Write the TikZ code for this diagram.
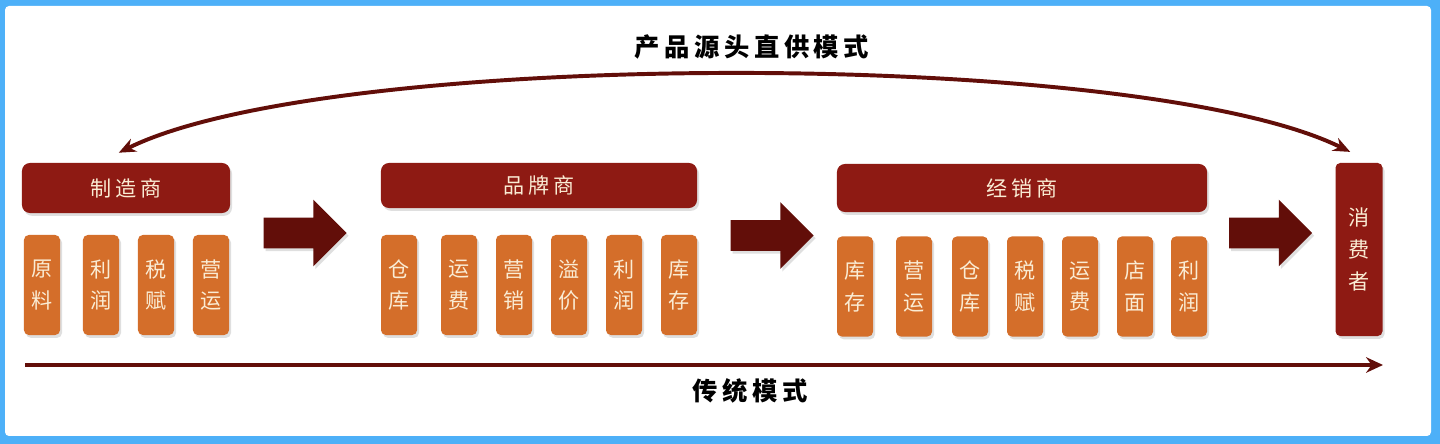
\documentclass[tikz,border=0pt]{standalone}
\usepackage{fontspec}
\newfontfamily\cjk{Noto Sans CJK SC}
\newfontfamily\cjkwide{Noto Sans CJK SC}[LetterSpace=18]
\usetikzlibrary{arrows.meta,shapes.arrows,shadows}
\definecolor{headred}{RGB}{142,26,19}
\definecolor{itemorange}{RGB}{212,110,42}
\definecolor{flowred}{RGB}{98,14,9}
\definecolor{paletext}{RGB}{250,236,212}
\definecolor{frameblue}{RGB}{77,176,248}
\tikzset{
    >=Stealth,
    softshadow/.style={drop shadow={opacity=0.25,shadow xshift=0.05cm,shadow yshift=-0.07cm}},
    header/.style={rectangle,rounded corners=0.2cm,fill=headred,text=paletext,inner sep=0pt,minimum width=#1,font=\cjkwide\fontsize{15}{15}\selectfont,softshadow},
    item/.style={rectangle,rounded corners=0.12cm,fill=itemorange,text=paletext,inner sep=0pt,minimum width=0.9cm,minimum height=2.5cm,align=center,font=\cjk\fontsize{15}{22.5}\selectfont,softshadow},
    flow/.style={single arrow,fill=flowred,inner xsep=0pt,inner ysep=0.375cm,minimum height=2.075cm,minimum width=1.65cm,single arrow head extend=0.45cm,softshadow},
    mode/.style={font=\cjkwide\bfseries\fontsize{18}{18}\selectfont,text=black},
    route/.style={flowred,line width=2.8pt}
}

\begin{document}
\begin{tikzpicture}[x=0.025cm,y=-0.025cm]
  \useasboundingbox (0,0) rectangle (1440,444);
  \fill[frameblue] (0,0) rectangle (1440,444);
  \fill[white,rounded corners=0.1cm] (5,6) rectangle (1431,436);

  % headers
  \node[header=5.2cm,minimum height=1.25cm] (maker) at (126,188) {制造商};
  \node[header=7.9cm,minimum height=1.125cm] (brand) at (539,185.5) {品牌商};
  \node[header=9.25cm,minimum height=1.2cm] (dealer) at (1022,188) {经销商};
  \node[item,fill=headred,minimum width=1.175cm,minimum height=4.325cm] (consumer) at (1359,249.5) {消\\费\\者};

  % cost items
  \node[item] (m1) at (42,285)  {原\\料};
  \node[item] (m2) at (101,285) {利\\润};
  \node[item] (m3) at (156,285) {税\\赋};
  \node[item] (m4) at (211,285) {营\\运};

  \node[item] (b1) at (399,285) {仓\\库};
  \node[item] (b2) at (459,285) {运\\费};
  \node[item] (b3) at (514,285) {营\\销};
  \node[item] (b4) at (569,285) {溢\\价};
  \node[item] (b5) at (624,285) {利\\润};
  \node[item] (b6) at (679,285) {库\\存};

  \node[item] (d1) at (855,286.5)  {库\\存};
  \node[item] (d2) at (914,286.5)  {营\\运};
  \node[item] (d3) at (970,286.5)  {仓\\库};
  \node[item] (d4) at (1025,286.5) {税\\赋};
  \node[item] (d5) at (1080,286.5) {运\\费};
  \node[item] (d6) at (1135,286.5) {店\\面};
  \node[item] (d7) at (1189,286.5) {利\\润};

  % stage arrows
  \node[flow] (f1) at (297.5,233) {};
  \node[flow] (f2) at (764.5,235.5) {};
  \node[flow] (f3) at (1263,233) {};

  % direct mode
  \node[mode] (direct) at (752,47) {产品源头直供模式};
  \draw[route,{Stealth[length=12pt,width=10pt]}-{Stealth[length=12pt,width=10pt]}]
    ([xshift=-0.18cm,yshift=0.25cm]maker.north) .. controls (330,48) and (1140,48) .. ([xshift=-0.22cm,yshift=0.27cm]consumer.north);

  % traditional mode
  \coordinate (tradL) at (25,365);
  \coordinate (tradR) at (1383,365);
  \draw[route,-{Stealth[length=12pt,width=11pt]}] (tradL) -- (tradR);
  \node[mode] (trad) at (750,391) {传统模式};
\end{tikzpicture}
\end{document}
